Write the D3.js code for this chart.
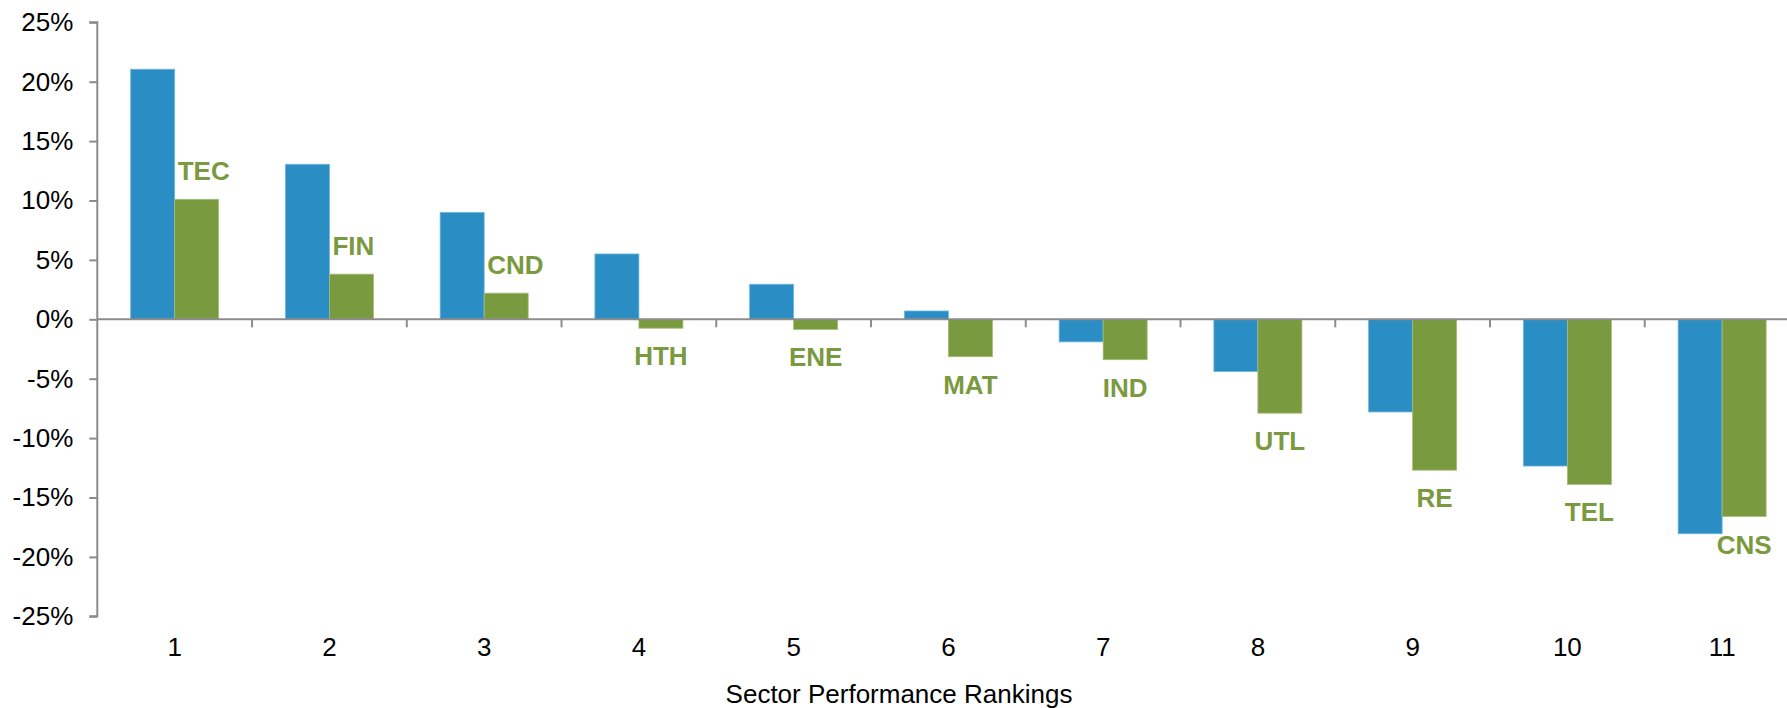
<!DOCTYPE html>
<html>
<head>
<meta charset="utf-8">
<script src="https://cdn.jsdelivr.net/npm/d3@7"></script>
<style>
  html, body { margin: 0; padding: 0; background: #fff; }
  svg { display: block; }
  text { font-family: "Liberation Sans", Arial, sans-serif; }
</style>
</head>
<body>
<svg id="chart" width="1787" height="708"></svg>
<script>
// ---- data ----
const ranks = ["1","2","3","4","5","6","7","8","9","10","11"];
const seriesA = [21.05, 13.05, 9.0, 5.5, 2.95, 0.7, -1.9, -4.4, -7.8, -12.35, -18.05];   // blue
const seriesB = [10.1, 3.8, 2.2, -0.75, -0.85, -3.15, -3.4, -7.9, -12.7, -13.9, -16.6]; // green
const sectorLabels = ["TEC","FIN","CND","HTH","ENE","MAT","IND","UTL","RE","TEL","CNS"];
const yTicks = [-25, -20, -15, -10, -5, 0, 5, 10, 15, 20, 25];
const xTitle = "Sector Performance Rankings";

(function () {
// ---- layout ----
const svg = d3.select("#chart");
const pLeft = 97.3, pRight = 1799.5, pTop = 22.3, pBottom = 616.3;
const blue = "#2a8dc3", green = "#7a9a3f", axisCol = "#8c8c8c";

const x0 = d3.scaleBand().domain(ranks).range([pLeft, pRight]).paddingInner(0).paddingOuter(0);
const x1 = d3.scaleBand().domain(["A","B"]).range([0, x0.bandwidth()]).paddingInner(0).paddingOuter(0.7585);
const y = d3.scaleLinear().domain([-25, 25]).range([pBottom, pTop]);

const rows = ranks.map((r, i) => ({ r, a: seriesA[i], b: seriesB[i], label: sectorLabels[i] }));

// bars
const g = svg.append("g");
rows.forEach(d => {
  [["A", d.a, blue, "#6fb6de"], ["B", d.b, green, "#a3bd7a"]].forEach(([k, v, c, sc]) => {
    g.append("rect")
      .attr("x", x0(d.r) + x1(k))
      .attr("width", x1.bandwidth())
      .attr("y", y(Math.max(0, v)))
      .attr("height", Math.abs(y(v) - y(0)))
      .attr("fill", c)
      .attr("stroke", sc)
      .attr("stroke-width", 0.8);
  });
});

// y axis
const yAxis = svg.append("g")
  .attr("transform", `translate(${pLeft},0)`)
  .call(d3.axisLeft(y).tickValues(yTicks).tickSize(8).tickPadding(16).tickFormat(d => d + "%"));
yAxis.select(".domain").attr("stroke", axisCol).attr("stroke-width", 2).attr("d", `M-8,${y(25)}H0V${y(-25)}H-8`);
yAxis.selectAll(".tick line").attr("stroke", axisCol).attr("stroke-width", 2);
yAxis.selectAll(".tick text").attr("font-size", 26).attr("fill", "#000")
  .attr("font-family", "'Liberation Sans', Arial, sans-serif");

// x axis at zero
const xAxis = svg.append("g")
  .attr("transform", `translate(0,${y(0)})`)
  .call(d3.axisBottom(x0).tickSize(0).tickPadding(0).tickFormat(""));
xAxis.select(".domain").attr("stroke", axisCol).attr("stroke-width", 2).attr("d", `M${pLeft},0H${pRight}`);
xAxis.selectAll(".tick line").remove();
// category boundary ticks
ranks.forEach(r => {
  const bx = x0(r) + x0.bandwidth();
  xAxis.append("line").attr("x1", bx).attr("x2", bx).attr("y1", 0).attr("y2", 8)
    .attr("stroke", axisCol).attr("stroke-width", 2);
});

// x tick labels at bottom
svg.append("g").selectAll("text").data(ranks).join("text")
  .attr("x", d => x0(d) + x0.bandwidth() / 2)
  .attr("y", 656)
  .attr("text-anchor", "middle")
  .attr("font-size", 26)
  .attr("fill", "#000")
  .text(d => d);

// sector labels
svg.append("g").selectAll("text").data(rows).join("text")
  .attr("x", d => d.b >= 0 ? x0(d.r) + x1("B") + 3 : x0(d.r) + x1("B") + x1.bandwidth() / 2)
  .attr("y", d => d.b >= 0 ? y(d.b) - 19 : y(d.b) + 37)
  .attr("text-anchor", d => d.b >= 0 ? "start" : "middle")
  .attr("font-size", 26)
  .attr("font-weight", "bold")
  .attr("fill", green)
  .text(d => d.label);

// x title
svg.append("text")
  .attr("x", 899)
  .attr("y", 703)
  .attr("text-anchor", "middle")
  .attr("font-size", 26)
  .attr("fill", "#000")
  .text(xTitle);
})();
</script>
</body>
</html>
